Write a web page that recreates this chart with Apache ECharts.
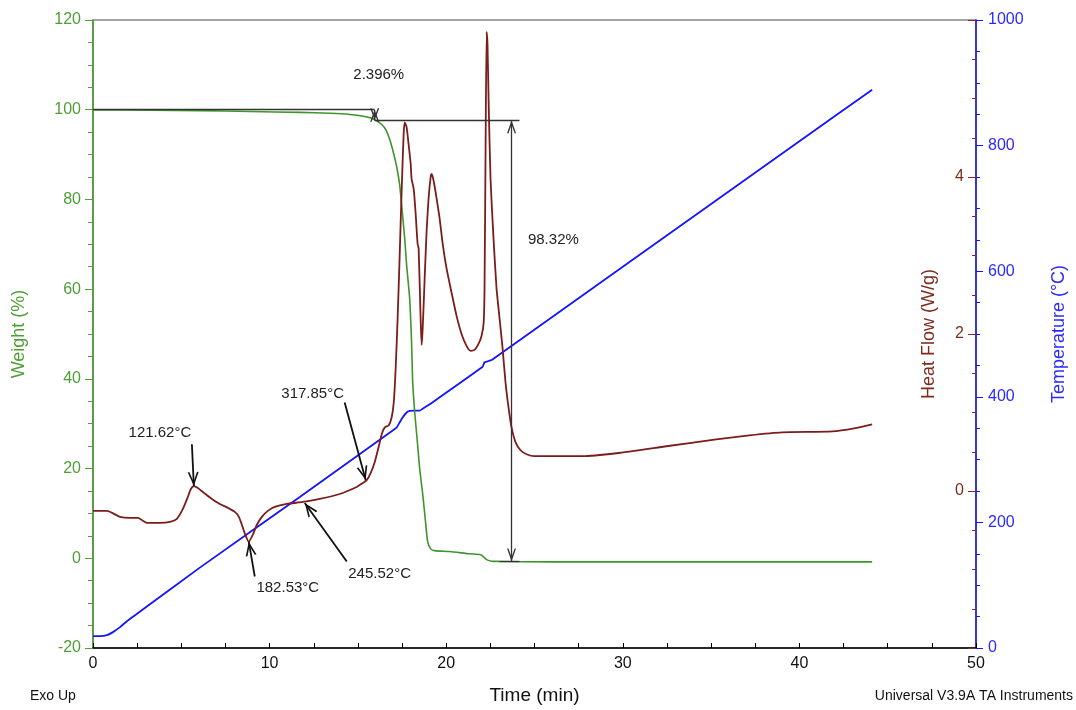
<!DOCTYPE html>
<html><head><meta charset="utf-8">
<script src="https://cdn.jsdelivr.net/npm/echarts/dist/echarts.min.js"></script>
<style>html,body{margin:0;padding:0;background:#fff}#c{width:1076px;height:710px}</style>
</head><body><div id="c"></div>
<script>
// ---- Data ----
const weightTime = [0, 3.22, 6.05, 8.88, 11.71, 13.4, 14.54, 15.38, 15.78, 16.06, 16.35, 16.57, 16.8, 17.02, 17.19, 17.36, 17.48, 17.65, 17.76, 17.93, 18.04, 18.1, 18.21, 18.38, 18.5, 18.67, 18.83, 18.95, 19.12, 19.34, 20.19, 21.32, 21.95, 22.12, 22.29, 22.57, 23.02, 25.85, 31.5, 37.2, 44.12];
const weightPct  = [99.95, 99.9, 99.8, 99.6, 99.4, 99.2, 98.95, 98.5, 98.07, 97.5, 96.7, 95.6, 93.4, 90.3, 87.4, 83.4, 78.6, 71.3, 65.3, 58.0, 48.0, 39.6, 32.9, 25.4, 19.9, 14.3, 8.1, 3.7, 2.1, 1.7, 1.5, 1.0, 0.8, 0.3, -0.3, -0.65, -0.7, -0.8, -0.8, -0.8, -0.8];

const heatTime = [0, 0.79, 1.53, 2.09, 2.55, 2.83, 3.05, 3.79, 4.36, 4.75, 5.09, 5.37, 5.54, 5.71, 5.94, 6.22, 6.73, 7.18, 7.64, 8.03, 8.26, 8.43, 8.6, 8.82, 9.05, 9.28, 9.56, 9.9, 10.29, 10.97, 11.88, 12.84, 13.97, 14.93, 15.27, 15.5, 15.72, 15.95, 16.17, 16.35, 16.52, 16.74, 16.91, 17.03, 17.14, 17.25, 17.36, 17.48, 17.59, 17.65, 17.76, 17.87, 17.99, 18.04, 18.16, 18.27, 18.38, 18.44, 18.55, 18.61, 18.67, 18.78, 18.89, 19.0, 19.12, 19.18, 19.29, 19.46, 19.63, 19.8, 20.02, 20.31, 20.59, 20.87, 21.15, 21.38, 21.61, 21.83, 22.0, 22.12, 22.17, 22.23, 22.29, 22.34, 22.4, 22.51, 22.68, 22.85, 23.02, 23.19, 23.36, 23.53, 23.7, 23.93, 24.21, 24.55, 25.0, 26.41, 27.71, 29.64, 32.47, 35.29, 37.16, 39.03, 41.86, 43.1, 44.12];
const heatFlow = [-0.253, -0.253, -0.329, -0.342, -0.342, -0.38, -0.405, -0.405, -0.392, -0.354, -0.228, -0.076, 0.025, 0.063, 0.038, -0.013, -0.101, -0.165, -0.215, -0.266, -0.329, -0.43, -0.544, -0.646, -0.557, -0.43, -0.329, -0.253, -0.203, -0.165, -0.139, -0.101, -0.038, 0.051, 0.101, 0.139, 0.228, 0.367, 0.557, 0.722, 0.81, 0.835, 0.937, 1.127, 1.57, 2.203, 2.962, 3.848, 4.544, 4.696, 4.633, 4.418, 4.165, 3.975, 3.848, 3.532, 3.152, 3.089, 2.203, 1.861, 2.076, 2.709, 3.304, 3.722, 4.0, 4.038, 3.949, 3.722, 3.468, 3.152, 2.835, 2.519, 2.228, 2.0, 1.848, 1.785, 1.797, 1.873, 1.975, 2.139, 2.582, 4.354, 5.848, 5.684, 4.987, 3.975, 3.215, 2.582, 2.203, 1.823, 1.38, 1.063, 0.81, 0.62, 0.519, 0.468, 0.443, 0.443, 0.443, 0.481, 0.57, 0.658, 0.709, 0.747, 0.759, 0.797, 0.848];

const tempTime = [0, 0.4, 0.79, 1.13, 1.53, 1.92, 2.38, 3.22, 6.05, 11.71, 16.97, 17.19, 17.36, 17.53, 17.76, 17.93, 18.21, 18.5, 18.67, 19.06, 22.06, 22.17, 22.4, 22.6, 30.0, 40.0, 44.12];
const tempC    = [19, 19, 20.6, 25.3, 33.2, 42.7, 52.2, 69.6, 128, 240.5, 346.5, 351, 359, 367, 375, 377.4, 378, 378, 381, 388, 447.8, 455, 457, 459, 607, 807, 889];

// axis ranges / ticks
const timeRange = [0, 50, 10];
const weightRange = [-20, 120, 20];
const heatRange = [-2, 6, 2];
const heatMinor = 0.5;
const heatLabels = [0, 2, 4];
const tempRange = [0, 1000, 200];

// annotations (data coordinates)
const weightStepLevels = [100, 97.63, -0.7];   // start, onset, residue (%)
const weightStepTimes = [15.95, 23.7];          // min
const weightTexts = [['2.396%', 16.18, 107.8], ['98.32%', 24.6, 71.0]];
const peakArrows = [ // [fromT, fromH, toT, toH]
  [5.60, 0.595, 5.71, 0.063],
  [9.16, -1.089, 8.82, -0.646],
  [14.37, -0.899, 11.99, -0.152],
  [14.25, 1.127, 15.44, 0.139]
];
const peakTexts = [['121.62°C', 3.79, 0.747], ['182.53°C', 11.03, -1.24], ['245.52°C', 16.23, -1.05], ['317.85°C', 12.44, 1.24]];

// ---- Styles ----
const FONT = '"Liberation Sans", Arial, sans-serif';
const GREEN = '#3d962c', GREEN_L = '#4f9e36';
const HEAT = '#7b1d1b', HEAT_L = '#7f2b1e';
const BLUE = '#1414ff', BLUE_L = '#2a2aff';
const INK = '#222';
const CHEV = 'path://M5,12 L10,24 L8.4,24 L5,15.8 L1.6,24 L0,24 Z M5,0 L5.01,0.01 L5,0.02 Z';

const zip = (a, b) => a.map((v, i) => [v, b[i]]);

const chart = echarts.init(document.getElementById('c'), null, {renderer: 'canvas'});

const weightLines = [
  [{coord: [0, weightStepLevels[0]]}, {coord: [weightStepTimes[0], weightStepLevels[0]]}],
  [{coord: [weightStepTimes[0], weightStepLevels[1]]}, {coord: [24.15, weightStepLevels[1]]}],
  [{coord: [23.02, weightStepLevels[2]]}, {coord: [24.15, weightStepLevels[2]]}],
  [{coord: [weightStepTimes[1], weightStepLevels[1]], symbol: CHEV, symbolSize: [9, 26]}, {coord: [weightStepTimes[1], weightStepLevels[2]], symbol: CHEV, symbolSize: [9, 26]}],
  [{coord: [weightStepTimes[0], weightStepLevels[1]], symbol: CHEV, symbolSize: [9, 24]}, {coord: [weightStepTimes[0], weightStepLevels[0]], symbol: CHEV, symbolSize: [9, 24]}]
];

const arrowLines = peakArrows.map(a => [
  {coord: [a[0], a[1]], symbol: 'none'},
  {coord: [a[2], a[3]], symbol: CHEV, symbolSize: [11, 28]}
]);

const textPoint = (t, align) => ({
  coord: [t[1], t[2]], value: t[0],
  symbol: 'circle', symbolSize: 1, itemStyle: {color: 'rgba(0,0,0,0)'},
  label: {show: true, position: align === 'left' ? 'right' : 'inside', distance: 0,
    formatter: t[0], color: INK, fontSize: 15, fontFamily: FONT}
});

const option = {
  animation: false,
  grid: {left: 93, right: 99, top: 20, bottom: 58, show: true, borderColor: '#4a4a4a', borderWidth: 1.2, backgroundColor: 'transparent'},
  xAxis: {
    type: 'value', min: timeRange[0], max: timeRange[1], interval: timeRange[2],
    axisLine: {onZero: false, lineStyle: {color: '#000', width: 1.5}},
    axisTick: {inside: true, length: 5, lineStyle: {color: '#000'}},
    minorTick: {show: true, splitNumber: 4, length: 5, lineStyle: {color: '#000'}},
    splitLine: {show: false},
    axisLabel: {color: '#111', fontSize: 16, fontFamily: FONT, margin: 8},
    name: 'Time (min)', nameLocation: 'middle', nameGap: 38,
    nameTextStyle: {color: '#111', fontSize: 19, fontFamily: FONT}
  },
  yAxis: [
    {
      type: 'value', min: weightRange[0], max: weightRange[1], interval: weightRange[2], position: 'left',
      axisLine: {show: true, onZero: false, lineStyle: {color: GREEN_L, width: 1.5}},
      axisTick: {show: true, length: 8, lineStyle: {color: GREEN_L}},
      minorTick: {show: true, splitNumber: 4, length: 5, lineStyle: {color: GREEN_L}},
      splitLine: {show: false},
      axisLabel: {color: GREEN_L, fontSize: 16, fontFamily: FONT, margin: 12},
      name: 'Weight (%)', nameLocation: 'middle', nameGap: 65,
      nameTextStyle: {color: GREEN_L, fontSize: 18, fontFamily: FONT}
    },
    {
      type: 'value', min: heatRange[0], max: heatRange[1], interval: heatMinor, position: 'right',
      axisLine: {show: false, onZero: false},
      axisTick: {show: true, inside: true, length: 4, lineStyle: {color: HEAT_L}},
      splitLine: {show: false},
      axisLabel: {inside: true, color: HEAT_L, fontSize: 16, fontFamily: FONT, margin: 12,
        formatter: v => heatLabels.indexOf(v) >= 0 ? String(v) : ''},
      name: 'Heat Flow (W/g)', nameLocation: 'middle', nameGap: -56,
      nameTextStyle: {color: HEAT_L, fontSize: 18, fontFamily: FONT}
    },
    {
      type: 'value', min: tempRange[0], max: tempRange[1], interval: tempRange[2], position: 'right',
      axisLine: {show: true, onZero: false, lineStyle: {color: BLUE, width: 1.5}},
      axisTick: {show: true, length: 7, lineStyle: {color: BLUE}},
      minorTick: {show: true, splitNumber: 4, length: 4, lineStyle: {color: BLUE}},
      splitLine: {show: false},
      axisLabel: {color: BLUE_L, fontSize: 16, fontFamily: FONT, margin: 12, formatter: v => String(v)},
      name: 'Temperature (°C)', nameLocation: 'middle', nameGap: 74,
      nameTextStyle: {color: BLUE_L, fontSize: 18, fontFamily: FONT}
    },
    {
      type: 'value', min: heatRange[0], max: heatRange[1], interval: heatRange[2], position: 'right',
      axisLine: {show: false, onZero: false},
      axisTick: {show: true, inside: true, length: 8, lineStyle: {color: HEAT_L}},
      splitLine: {show: false},
      axisLabel: {show: false}
    }
  ],
  series: [
    {
      name: 'Temperature', type: 'line', yAxisIndex: 2, showSymbol: false, smooth: 0.15, z: 2,
      data: zip(tempTime, tempC), lineStyle: {color: BLUE, width: 1.8}
    },
    {
      name: 'Weight', type: 'line', yAxisIndex: 0, showSymbol: false, smooth: 0.2, z: 3,
      data: zip(weightTime, weightPct), lineStyle: {color: GREEN, width: 1.6},
      markLine: {silent: true, symbol: ['none', 'none'], label: {show: false},
        lineStyle: {color: '#333', width: 1.3, type: 'solid'}, data: weightLines},
      markPoint: {silent: true, data: [textPoint(weightTexts[0], 'center'), textPoint(weightTexts[1], 'left')]}
    },
    {
      name: 'Heat Flow', type: 'line', yAxisIndex: 1, showSymbol: false, smooth: 0.2, z: 4,
      data: zip(heatTime, heatFlow), lineStyle: {color: HEAT, width: 1.8},
      markLine: {silent: true, symbol: ['none', 'none'], label: {show: false},
        lineStyle: {color: '#111', width: 1.8, type: 'solid'}, data: arrowLines},
      markPoint: {silent: true, data: peakTexts.map(t => textPoint(t, 'center'))}
    }
  ],
  graphic: [
    {type: 'text', left: 30, top: 689, style: {text: 'Exo Up', fill: '#111', font: '14px ' + FONT}},
    {type: 'text', right: 3, top: 689, style: {text: 'Universal V3.9A TA Instruments', fill: '#111', font: '14px ' + FONT}}
  ]
};
chart.setOption(option);
</script>
</body></html>
